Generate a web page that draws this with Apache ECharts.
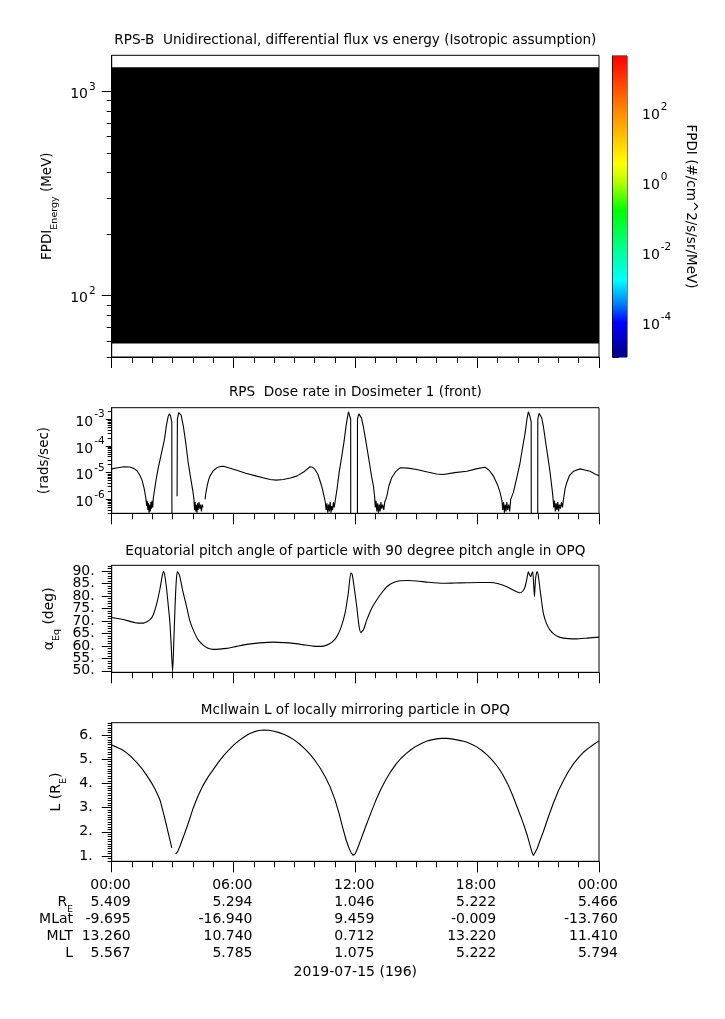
<!DOCTYPE html>
<html><head><meta charset="utf-8">
<script src="https://cdn.jsdelivr.net/npm/echarts@6/dist/echarts.min.js"></script>
<style>html,body{margin:0;padding:0;background:#fff}#c{width:725px;height:1019px}</style>
</head><body><div id="c"></div>
<script>
const FONT = 'DejaVu Sans';

// ---------- DATA ----------
// spectrogram (all fill / black) : time edges (hours) and energy edges (MeV)
const specTimeEdges = [0, 24];
const specEnergyEdges = [58.2, 1312];

// Dose rate (hours, log10 rads/sec); null = gap
const doseT = [0,0.3,0.6,0.9,1.1,1.25,1.4,1.5,1.6,1.68,1.72,1.75,1.78,1.81,1.84,1.87,1.9,1.93,1.96,1.99,2.02,2.05,2.1,2.2,2.3,2.4,2.5,2.6,2.7,2.78,2.84,2.9,2.96,2.97,3.1,
 3.22,3.235,3.3,3.36,3.42,3.53,3.65,3.77,3.9,4.0,4.05,4.08,4.11,4.14,4.17,4.2,4.23,4.26,4.3,4.34,4.38,4.42,4.46,4.5,4.55,
 4.6,4.63,4.7,4.78,4.84,5.0,5.17,5.35,5.5,5.8,6.16,6.6,7.14,7.5,7.8,8.1,8.45,8.8,9.11,9.45,9.77,9.9,10.01,10.15,10.34,10.45,10.52,
 10.56,10.6,10.64,10.68,10.72,10.76,10.8,10.84,10.88,10.92,10.96,11.0,11.1,11.2,11.33,11.45,11.55,11.66,11.72,11.77,11.775,11.9,
 12.1,12.105,12.17,12.23,12.3,12.4,12.48,12.6,12.72,12.8,12.89,12.95,12.98,13.02,13.06,13.1,13.14,13.18,13.22,13.26,13.3,13.35,13.4,13.45,13.5,13.55,13.65,13.79,
 14.0,14.2,14.6,15.02,15.5,16.0,16.33,16.9,17.49,18.0,18.39,18.6,18.8,19.0,19.13,19.22,19.26,19.3,19.34,19.38,19.42,19.46,19.5,19.55,19.6,19.65,19.7,19.78,19.95,
 20.11,20.25,20.36,20.45,20.52,20.6,20.66,20.665,20.8,
 20.98,20.985,21.05,21.1,21.18,21.26,21.38,21.5,21.6,21.67,21.73,21.77,21.81,21.85,21.89,21.93,21.97,22.01,22.05,22.1,22.15,22.2,22.25,22.33,22.41,22.55,22.74,23.07,23.3,23.56,23.8,24.0];
const doseLog10 = [-4.86,-4.82,-4.78,-4.79,-4.85,-4.93,-5.12,-5.3,-5.6,-5.95,-6.25,-6.05,-6.4,-6.15,-6.5,-6.2,-6.45,-6.1,-6.35,-6.05,-6.3,-5.95,-5.7,-5.2,-4.8,-4.45,-4.1,-3.75,-3.2,-2.9,-2.8,-2.88,-3.1,-9,null,
 -5.88,-3.0,-2.75,-2.72,-2.85,-3.27,-3.9,-4.64,-5.25,-5.7,-6.0,-6.4,-6.1,-6.45,-6.2,-6.5,-6.15,-6.4,-6.1,-6.35,-6.2,-6.45,-6.2,-6.3,null,
 -6.0,-5.8,-5.5,-5.25,-5.13,-4.93,-4.82,-4.77,-4.76,-4.83,-4.91,-5.02,-5.13,-5.2,-5.26,-5.28,-5.26,-5.2,-5.13,-4.98,-4.78,-4.8,-4.88,-5.05,-5.5,-5.85,-6.1,
 -6.4,-6.15,-6.5,-6.2,-6.45,-6.1,-6.5,-6.25,-6.4,-6.1,-6.3,-6.1,-5.6,-5.0,-4.39,-3.8,-3.2,-2.72,-2.75,-3.0,-9,null,
 -9,-3.0,-2.8,-2.78,-2.95,-3.3,-3.65,-4.2,-4.76,-5.15,-5.5,-5.9,-6.3,-6.05,-6.45,-6.15,-6.5,-6.2,-6.45,-6.1,-6.35,-6.2,-6.4,-6.1,-6.0,-5.88,-5.5,-5.19,
 -4.95,-4.82,-4.83,-4.88,-4.97,-5.05,-5.07,-5.0,-4.95,-4.85,-4.8,-4.92,-5.13,-5.45,-5.75,-6.05,-6.4,-6.1,-6.5,-6.2,-6.45,-6.1,-6.4,-6.2,-6.45,-6.0,-5.95,-5.75,-5.2,
 -4.64,-4.0,-3.52,-3.0,-2.72,-2.9,-3.1,-9,null,
 -9,-3.0,-2.78,-2.72,-2.95,-3.27,-3.9,-4.51,-5.05,-5.5,-5.9,-6.3,-6.05,-6.45,-6.15,-6.4,-6.1,-6.45,-6.2,-6.35,-6.1,-6.3,-6.0,-5.6,-5.38,-5.1,-4.95,-4.86,-4.9,-4.95,-5.05,-5.12];

// Equatorial pitch angle (hours, deg)
const pitchT = [0,0.57,1.15,1.56,1.89,2.05,2.22,2.38,2.5,2.56,2.62,2.71,2.8,2.87,2.93,3.0,3.06,3.12,3.18,3.23,3.3,3.36,3.5,3.69,3.85,4.02,4.25,4.51,4.75,5.0,5.3,5.67,6.15,6.65,7.3,7.96,8.5,8.95,9.4,9.93,10.3,10.59,10.85,11.08,11.3,11.49,11.65,11.78,11.85,11.95,12.07,12.18,12.27,12.4,12.56,12.8,13.05,13.3,13.55,13.85,14.2,14.6,15.02,15.6,16.33,16.9,17.49,18.1,18.64,19.0,19.46,19.8,20.11,20.25,20.36,20.45,20.52,20.58,20.64,20.69,20.74,20.78,20.82,20.87,20.93,20.97,21.03,21.1,21.18,21.26,21.42,21.59,21.8,22.08,22.5,22.9,23.4,24.0];
const pitchV = [71.4,70.6,69.3,69.1,70.5,72.5,77.0,83,88.5,89.8,88,82.4,75,69.0,60,49.6,62,75.7,86,89.7,89,87.7,82,75.7,70,66.3,62.5,60.3,59.0,58.6,58.7,59.0,59.8,60.6,61.2,61.5,61.3,61.0,60.5,59.9,59.8,60.3,61.5,63.6,67.5,73.0,81,89.3,88.5,83,75.7,68,65.4,66.5,70.3,75,78.4,81.3,83.7,85.3,86.1,86.2,86.0,85.5,85.1,85.2,85.3,85.4,85.4,85.0,83.7,82.3,81.3,82,83.7,87,89.7,88.5,87.7,89,89.7,85,79.7,86.4,89.5,89.7,87,82.4,77.5,73.0,68.8,66.3,64.6,63.4,62.9,62.8,63.1,63.5];

// McIlwain L (hours, Re); null = gap
const lT = [0,0.25,0.5,0.75,1.0,1.25,1.5,1.75,2.0,2.15,2.3,2.4,2.55,2.7,2.85,2.96,3.05,
 3.15,3.25,3.35,3.5,3.75,4.0,4.25,4.5,4.75,5.0,5.25,5.5,5.75,6.0,6.25,6.5,6.75,7.0,7.25,7.5,7.75,8.0,8.25,8.5,8.75,9.0,9.25,9.5,9.75,10.0,10.25,10.5,10.75,11.0,11.2,11.4,11.55,11.7,11.8,11.9,
 12.0,12.1,12.25,12.5,12.75,13.0,13.25,13.5,13.75,14.0,14.25,14.5,14.75,15.0,15.25,15.5,15.75,16.0,16.25,16.5,16.75,17.0,17.25,17.5,17.75,18.0,18.25,18.5,18.75,19.0,19.25,19.5,19.75,20.0,20.25,20.45,20.6,20.7,20.77,
 20.85,20.95,21.1,21.25,21.5,21.75,22.0,22.25,22.5,22.75,23.0,23.25,23.5,23.75,24.0];
const lV = [5.59,5.5,5.4,5.25,5.07,4.85,4.6,4.3,3.97,3.74,3.47,3.26,2.77,2.26,1.72,1.33,null,
 1.08,1.18,1.38,1.72,2.3,2.95,3.48,3.92,4.27,4.57,4.87,5.14,5.37,5.58,5.76,5.91,6.04,6.13,6.19,6.21,6.2,6.16,6.1,6.02,5.92,5.79,5.63,5.44,5.22,4.96,4.66,4.3,3.87,3.32,2.75,2.1,1.65,1.3,1.12,1.03,
 1.1,1.3,1.63,2.2,2.75,3.28,3.75,4.15,4.5,4.8,5.04,5.23,5.4,5.54,5.65,5.74,5.8,5.84,5.86,5.86,5.84,5.8,5.76,5.7,5.61,5.5,5.35,5.17,4.95,4.7,4.38,3.98,3.5,2.95,2.4,1.9,1.45,1.15,1.02,
 1.08,1.3,1.65,1.98,2.6,3.18,3.7,4.12,4.5,4.82,5.08,5.3,5.47,5.62,5.76];

// bottom annotation
const tickHours = [0, 6, 12, 18, 24];
const tickTimeLabels = ['00:00','06:00','12:00','18:00','00:00'];
const rowRE   = ['5.409','5.294','1.046','5.222','5.466'];
const rowMLat = ['-9.695','-16.940','9.459','-0.009','-13.760'];
const rowMLT  = ['13.260','10.740','0.712','13.220','11.410'];
const rowL    = ['5.567','5.785','1.075','5.222','5.794'];
const dateLabel = '2019-07-15 (196)';

const titles = [
  'RPS-B  Unidirectional, differential flux vs energy (Isotropic assumption)',
  'RPS  Dose rate in Dosimeter 1 (front)',
  'Equatorial pitch angle of particle with 90 degree pitch angle in OPQ',
  'McIlwain L of locally mirroring particle in OPQ'
];

// colour bar
const cbMin = 1e-5, cbMax = 3981;
const cbColors = [
  [0, '#ff0000'], [0.187, '#ff8c00'], [0.357, '#ffff00'], [0.42, '#b4ff00'],
  [0.512, '#00ff00'], [0.645, '#00ff96'], [0.745, '#00ffff'], [0.823, '#0080ff'],
  [0.885, '#0000ff'], [1, '#000080']
];

// ---------- LAYOUT ----------
const PL = 111.7, PW = 487.3;
const grids = [
  {left: PL, top: 55.3, width: PW, height: 301.7},
  {left: PL, top: 407.7, width: PW, height: 105.6},
  {left: PL, top: 565.3, width: PW, height: 107},
  {left: PL, top: 722.7, width: PW, height: 138.6},
  {left: 612.7, top: 56, width: 14.3, height: 301}
].map(g => Object.assign({show: true, borderColor: '#000', borderWidth: 1, backgroundColor: 'transparent', containLabel: false}, g));

const BLACK = '#000';
const supRich = {
  b: {fontFamily: FONT, fontSize: 14, color: BLACK, lineHeight: 20, verticalAlign: 'bottom'},
  sup: {fontFamily: FONT, fontSize: 10.5, color: BLACK, lineHeight: 20, verticalAlign: 'top', padding: [0,0,0,1]}
};
const logFmt = v => '{b|10}{sup|' + Math.round(Math.log10(v)) + '}';

function xAxisFor(i) {
  return {
    type: 'value', gridIndex: i, min: 0, max: 24, interval: 6,
    axisLine: {show: true, onZero: false, lineStyle: {color: BLACK, width: 1}},
    axisTick: {show: true, length: 11, lineStyle: {color: BLACK, width: 1}},
    minorTick: {show: true, splitNumber: 6, length: 6, lineStyle: {color: BLACK, width: 1}},
    axisLabel: {show: false}, splitLine: {show: false}, minorSplitLine: {show: false}
  };
}

function logMinors(lo, hi) {
  const out = [];
  for (let d = Math.floor(Math.log10(lo)); d <= Math.ceil(Math.log10(hi)); d++) {
    for (let m = 2; m <= 9; m++) { const v = m * Math.pow(10, d); if (v >= lo * 0.999 && v <= hi) out.push(v); }
  }
  return out;
}
function linVals(a, b, step) { const out = []; for (let v = a; v <= b + 1e-9; v += step) out.push(+v.toFixed(6)); return out; }

function yMajor(o) {
  const lab = {show: true, customValues: o.labels || o.major, margin: o.margin, formatter: o.fmt,
      showMinLabel: true, showMaxLabel: true, hideOverlap: false,
      fontFamily: FONT, fontSize: 14, color: BLACK};
  if (o.log) lab.rich = supRich; else lab.lineHeight = 10;
  return {
    gridIndex: o.grid, position: 'left', min: o.min, max: o.max,
    type: o.log ? 'log' : 'value', logBase: 10,
    axisLine: {show: true, onZero: false, lineStyle: {color: BLACK}},
    axisTick: {show: true, length: o.majorLen, customValues: o.major, lineStyle: {color: BLACK}},
    axisLabel: lab,
    splitLine: {show: false},
    name: o.name, nameLocation: 'middle', nameGap: o.nameGap,
    nameTextStyle: {fontFamily: FONT, fontSize: 13.5, color: BLACK, rich: o.nameRich}
  };
}
function yMinor(o) {
  return {
    gridIndex: o.grid, position: 'left', min: o.min, max: o.max,
    type: o.log ? 'log' : 'value', logBase: 10,
    axisLine: {show: false},
    axisTick: {show: true, length: o.minorLen, customValues: o.minor, lineStyle: {color: BLACK}},
    axisLabel: {show: false}, splitLine: {show: false}
  };
}
// label-only axis (second set of labels, avoids label culling)
function yLabels(o, vals) {
  return {
    gridIndex: o.grid, position: 'left', min: o.min, max: o.max, type: 'value',
    axisLine: {show: false}, axisTick: {show: false}, splitLine: {show: false},
    axisLabel: {show: true, customValues: vals, margin: o.margin, formatter: o.fmt, lineHeight: 10,
      showMinLabel: true, showMaxLabel: true, fontFamily: FONT, fontSize: 14, color: BLACK}
  };
}

const subRich = {
  n: {fontFamily: FONT, fontSize: 13.5, color: BLACK, lineHeight: 18, verticalAlign: 'middle'},
  sub: {fontFamily: FONT, fontSize: 9.5, color: BLACK, lineHeight: 18, verticalAlign: 'bottom', padding: [0,0,-3,0]}
};

const p0 = {grid: 0, log: true, min: 50, max: 1500, major: [100, 1000], minor: logMinors(50, 1500).filter(v => v !== 100 && v !== 1000),
  majorLen: 10, minorLen: 5, margin: 16, fmt: logFmt, name: '{n|FPDI}{sub|Energy}{n| (MeV)}', nameGap: 47, nameRich: subRich};
const p1 = {grid: 1, log: true, min: 3e-7, max: 2.7e-3, major: [1e-6, 1e-5, 1e-4, 1e-3], minor: logMinors(3e-7, 2.7e-3),
  majorLen: 6, minorLen: 4, margin: 7, fmt: logFmt, name: '(rads/sec)', nameGap: 60};
const p2 = {grid: 2, log: false, min: 49.4, max: 92.3, major: linVals(50, 90, 5), labels: [50, 60, 70, 80, 90], minor: linVals(50, 92, 1),
  majorLen: 10, minorLen: 4, margin: 17, fmt: v => Math.round(v) + '.', name: '{n|α}{sub|Eq}{n| (deg)}', nameGap: 38,
  nameRich: {n: {fontFamily: FONT, fontSize: 14, color: BLACK, lineHeight: 18}, sub: subRich.sub}};
const p3 = {grid: 3, log: false, min: 0.78, max: 6.51, major: linVals(1, 6, 1), minor: linVals(0.8, 6.5, 0.1),
  majorLen: 10, minorLen: 4, margin: 19, fmt: v => Math.round(v) + '.', name: '{n|L (R}{sub|E}{n|)}', nameGap: 31,
  nameRich: {n: {fontFamily: FONT, fontSize: 14, color: BLACK, lineHeight: 18}, sub: subRich.sub}};

const yAxes = [yMajor(p0), yMinor(p0), yMajor(p1), yMinor(p1), yMajor(p2), yMinor(p2), yMajor(p3), yMinor(p3)];
// colour bar axis (index 8)
yAxes.push({
  gridIndex: 4, position: 'right', type: 'log', logBase: 10, min: cbMin, max: cbMax,
  axisLine: {show: true, lineStyle: {color: BLACK}},
  axisTick: {show: true, length: 6, customValues: [1e-5,1e-4,1e-3,1e-2,1e-1,1,10,100,1000], lineStyle: {color: BLACK}},
  axisLabel: {show: true, customValues: [1e-4, 1e-2, 1, 100], margin: 15, formatter: logFmt, rich: supRich, fontFamily: FONT, fontSize: 14, color: BLACK},
  splitLine: {show: false},
  name: 'FPDI (#/cm^2/s/sr/MeV)', nameLocation: 'middle', nameRotate: -90, nameGap: 56,
  nameTextStyle: {fontFamily: FONT, fontSize: 13.5, color: BLACK}
});
// extra pitch-angle labels (index 9)
yAxes.push(yLabels(p2, [55, 65, 75, 85]));

const xAxes = [xAxisFor(0), xAxisFor(1), xAxisFor(2), xAxisFor(3),
  {type: 'value', gridIndex: 4, min: 0, max: 1, show: false}];

function rectItem(params, api, fill) {
  const a = api.coord([api.value(0), api.value(3)]);
  const b = api.coord([api.value(1), api.value(2)]);
  return {type: 'rect', shape: {x: a[0], y: a[1], width: b[0] - a[0], height: b[1] - a[1]}, style: {fill: fill}};
}

const lineStyle = {color: BLACK, width: 1.1};
const series = [
  {type: 'custom', xAxisIndex: 0, yAxisIndex: 0, clip: true,
   data: [[specTimeEdges[0], specTimeEdges[1], specEnergyEdges[0], specEnergyEdges[1]]],
   renderItem: (p, api) => rectItem(p, api, '#000')},
  {type: 'custom', xAxisIndex: 4, yAxisIndex: 8, clip: true,
   data: [[0, 1, cbMin, cbMax]],
   renderItem: (p, api) => rectItem(p, api, new echarts.graphic.LinearGradient(0, 0, 0, 1,
      cbColors.map(c => ({offset: c[0], color: c[1]}))))},
  {type: 'line', xAxisIndex: 1, yAxisIndex: 2, showSymbol: false, clip: true, connectNulls: false,
   lineStyle: lineStyle, itemStyle: {color: BLACK},
   data: doseT.map((t, i) => [t, doseLog10[i] === null ? '-' : Math.pow(10, doseLog10[i])])},
  {type: 'line', xAxisIndex: 2, yAxisIndex: 4, showSymbol: false, clip: true, smooth: 0.2,
   lineStyle: lineStyle, itemStyle: {color: BLACK},
   data: pitchT.map((t, i) => [t, pitchV[i]])},
  {type: 'line', xAxisIndex: 3, yAxisIndex: 6, showSymbol: false, clip: true, smooth: false, connectNulls: false,
   lineStyle: lineStyle, itemStyle: {color: BLACK},
   data: lT.map((t, i) => [t, lV[i] === null ? '-' : lV[i]])}
];

const chart = echarts.init(document.getElementById('c'), null, {renderer: 'canvas', width: 725, height: 1019});
chart.setOption({
  animation: false, backgroundColor: '#fff',
  textStyle: {fontFamily: FONT},
  grid: grids, xAxis: xAxes, yAxis: yAxes, series: series
});

// titles and bottom annotation (positions through the axis scale)
const gfx = [];
const titleY = [40, 392, 551, 710];
const cx = chart.convertToPixel({xAxisIndex: 0}, 12);
titles.forEach((t, i) => gfx.push({type: 'text', x: cx, y: titleY[i],
  style: {text: t, fill: BLACK, font: '13.6px "' + FONT + '"', align: 'center', verticalAlign: 'middle'}}));

const rows = [tickTimeLabels, rowRE, rowMLat, rowMLT, rowL];
const rowY = [885, 902, 919, 936, 953];
tickHours.forEach((h, k) => {
  const px = chart.convertToPixel({xAxisIndex: 3}, h);
  rows.forEach((r, j) => gfx.push({type: 'text', x: px + 19, y: rowY[j],
    style: {text: r[k], fill: BLACK, font: '14px "' + FONT + '"', align: 'right', verticalAlign: 'middle'}}));
});
const rowNames = ['{n|R}{s|E}', 'MLat', 'MLT', 'L'];
rowNames.forEach((nm, j) => gfx.push({type: 'text', x: 73, y: rowY[j + 1],
  style: {text: nm, fill: BLACK, font: '14px "' + FONT + '"', align: 'right', verticalAlign: 'middle',
    rich: {n: {fontFamily: FONT, fontSize: 14, fill: BLACK, lineHeight: 16}, s: {fontFamily: FONT, fontSize: 9, fill: BLACK, lineHeight: 16, verticalAlign: 'bottom', padding: [0,0,-4,0]}}}}));
gfx.push({type: 'text', x: cx, y: 972, style: {text: dateLabel, fill: BLACK, font: '14px "' + FONT + '"', align: 'center', verticalAlign: 'middle'}});
chart.setOption({graphic: {elements: gfx}});
</script>
</body></html>
